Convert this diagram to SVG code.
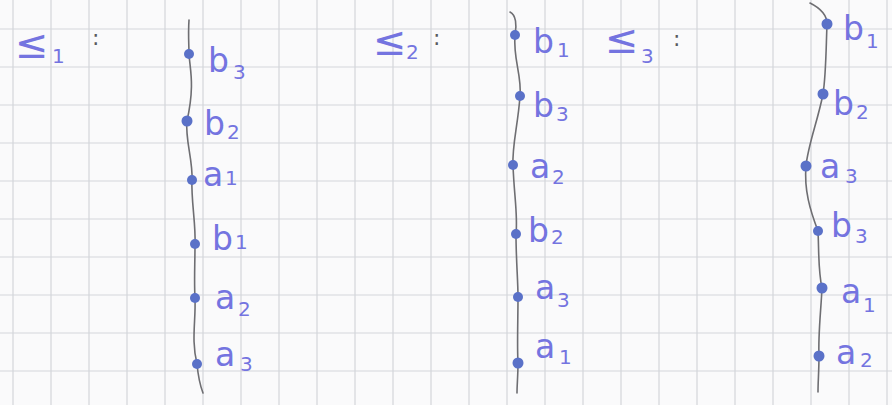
<svg xmlns="http://www.w3.org/2000/svg" width="892" height="405" viewBox="0 0 892 405">
<defs>
<style>
.grid line{stroke:#d4d5db;stroke-width:1.2}
.edge{fill:none;stroke:#6e6e72;stroke-width:1.6;stroke-linecap:round}
.dot{fill:#5a71c8}
.lbl{font-family:"DejaVu Sans",sans-serif;font-size:33px;fill:#7474e0}
.sub{font-size:20px}
.hdr{font-family:"DejaVu Sans",sans-serif;font-size:40px;fill:#7474e0}
.colon{font-family:"DejaVu Sans",sans-serif;font-size:22px;fill:#5a5a60}
</style>
</defs>
<rect x="0" y="0" width="892" height="405" fill="#fafafb"/>
<g class="grid">
<line x1="13" y1="0" x2="13" y2="405"/><line x1="51" y1="0" x2="51" y2="405"/><line x1="89" y1="0" x2="89" y2="405"/><line x1="127" y1="0" x2="127" y2="405"/><line x1="165" y1="0" x2="165" y2="405"/><line x1="203" y1="0" x2="203" y2="405"/><line x1="241" y1="0" x2="241" y2="405"/><line x1="279" y1="0" x2="279" y2="405"/><line x1="317" y1="0" x2="317" y2="405"/><line x1="355" y1="0" x2="355" y2="405"/><line x1="393" y1="0" x2="393" y2="405"/><line x1="431" y1="0" x2="431" y2="405"/><line x1="469" y1="0" x2="469" y2="405"/><line x1="507" y1="0" x2="507" y2="405"/><line x1="545" y1="0" x2="545" y2="405"/><line x1="583" y1="0" x2="583" y2="405"/><line x1="621" y1="0" x2="621" y2="405"/><line x1="659" y1="0" x2="659" y2="405"/><line x1="697" y1="0" x2="697" y2="405"/><line x1="735" y1="0" x2="735" y2="405"/><line x1="773" y1="0" x2="773" y2="405"/><line x1="811" y1="0" x2="811" y2="405"/><line x1="849" y1="0" x2="849" y2="405"/><line x1="887" y1="0" x2="887" y2="405"/>
<line x1="0" y1="29" x2="892" y2="29"/><line x1="0" y1="67" x2="892" y2="67"/><line x1="0" y1="105" x2="892" y2="105"/><line x1="0" y1="143" x2="892" y2="143"/><line x1="0" y1="181" x2="892" y2="181"/><line x1="0" y1="219" x2="892" y2="219"/><line x1="0" y1="257" x2="892" y2="257"/><line x1="0" y1="295" x2="892" y2="295"/><line x1="0" y1="333" x2="892" y2="333"/><line x1="0" y1="371" x2="892" y2="371"/>
</g>
<g id="headers">
<text class="hdr" x="15" y="58">≤<tspan class="sub" x="52" y="63">1</tspan></text>
<text class="colon" x="92" y="45">:</text>
<text class="hdr" x="373" y="55">≤<tspan class="sub" x="406" y="59">2</tspan></text>
<text class="colon" x="433" y="45">:</text>
<text class="hdr" x="605" y="53">≤<tspan class="sub" x="641" y="63">3</tspan></text>
<text class="colon" x="673" y="46">:</text>
</g>
<g id="connectors">
<path class="edge" d="M189,20 C188,35 189,45 189,54"/>
<path class="edge" d="M189,54 C190,70 195,85 187,121"/>
<path class="edge" d="M187,121 C185,140 193,160 192,180"/>
<path class="edge" d="M192,180 C191,200 196,225 195,244"/>
<path class="edge" d="M195,244 C195,265 194,280 195,298"/>
<path class="edge" d="M195,298 C196,320 191,340 197,364"/>
<path class="edge" d="M197,364 C198,375 200,385 203,393"/>
<path class="edge" d="M510,12 C516,15 517,25 515,35"/>
<path class="edge" d="M515,35 C513,60 522,75 520,96"/>
<path class="edge" d="M520,96 C518,125 512,145 513,165"/>
<path class="edge" d="M513,165 C514,195 518,215 516,234"/>
<path class="edge" d="M516,234 C516,260 518,280 518,297"/>
<path class="edge" d="M518,297 C518,320 517,345 518,363"/>
<path class="edge" d="M518,363 C518,375 517,385 517,393"/>
<path class="edge" d="M810,3 C820,8 827,15 827,24"/>
<path class="edge" d="M827,24 C826,50 826,75 823,94"/>
<path class="edge" d="M823,94 C818,120 808,145 806,166"/>
<path class="edge" d="M806,166 C804,190 810,210 818,231"/>
<path class="edge" d="M818,231 C819,250 818,270 822,288"/>
<path class="edge" d="M822,288 C821,310 818,335 819,356"/>
<path class="edge" d="M819,356 C819,370 818,382 818,392"/>
</g>
<g id="p1-b3"><circle class="dot" cx="189" cy="54" r="5"/><text class="lbl" x="208" y="72">b<tspan class="sub" x="233" y="79">3</tspan></text></g>
<g id="p1-b2"><circle class="dot" cx="187" cy="121" r="5.5"/><text class="lbl" x="204" y="135">b<tspan class="sub" x="227" y="139">2</tspan></text></g>
<g id="p1-a1"><circle class="dot" cx="192" cy="180" r="5"/><text class="lbl" x="203" y="186">a<tspan class="sub" x="225" y="185">1</tspan></text></g>
<g id="p1-b1"><circle class="dot" cx="195" cy="244" r="5"/><text class="lbl" x="212" y="250">b<tspan class="sub" x="235" y="249">1</tspan></text></g>
<g id="p1-a2"><circle class="dot" cx="195" cy="298" r="5"/><text class="lbl" x="215" y="309">a<tspan class="sub" x="238" y="316">2</tspan></text></g>
<g id="p1-a3"><circle class="dot" cx="197" cy="364" r="5"/><text class="lbl" x="215" y="366">a<tspan class="sub" x="240" y="371">3</tspan></text></g>
<g id="p2-b1"><circle class="dot" cx="515" cy="35" r="5"/><text class="lbl" x="533" y="53">b<tspan class="sub" x="557" y="57">1</tspan></text></g>
<g id="p2-b3"><circle class="dot" cx="520" cy="96" r="5"/><text class="lbl" x="533" y="117">b<tspan class="sub" x="556" y="121">3</tspan></text></g>
<g id="p2-a2"><circle class="dot" cx="513" cy="165" r="5"/><text class="lbl" x="530" y="178">a<tspan class="sub" x="552" y="184">2</tspan></text></g>
<g id="p2-b2"><circle class="dot" cx="516" cy="234" r="5"/><text class="lbl" x="528" y="242">b<tspan class="sub" x="551" y="244">2</tspan></text></g>
<g id="p2-a3"><circle class="dot" cx="518" cy="297" r="5"/><text class="lbl" x="535" y="299">a<tspan class="sub" x="557" y="307">3</tspan></text></g>
<g id="p2-a1"><circle class="dot" cx="518" cy="363" r="5.5"/><text class="lbl" x="535" y="358">a<tspan class="sub" x="559" y="364">1</tspan></text></g>
<g id="p3-b1"><circle class="dot" cx="827" cy="24" r="5.5"/><text class="lbl" x="843" y="40">b<tspan class="sub" x="866" y="48">1</tspan></text></g>
<g id="p3-b2"><circle class="dot" cx="823" cy="94" r="5.5"/><text class="lbl" x="833" y="115">b<tspan class="sub" x="856" y="119">2</tspan></text></g>
<g id="p3-a3"><circle class="dot" cx="806" cy="166" r="5.5"/><text class="lbl" x="820" y="178">a<tspan class="sub" x="845" y="183">3</tspan></text></g>
<g id="p3-b3"><circle class="dot" cx="818" cy="231" r="5"/><text class="lbl" x="831" y="237">b<tspan class="sub" x="855" y="243">3</tspan></text></g>
<g id="p3-a1"><circle class="dot" cx="822" cy="288" r="5.5"/><text class="lbl" x="841" y="303">a<tspan class="sub" x="863" y="312">1</tspan></text></g>
<g id="p3-a2"><circle class="dot" cx="819" cy="356" r="5.5"/><text class="lbl" x="836" y="364">a<tspan class="sub" x="860" y="367">2</tspan></text></g>
</svg>
